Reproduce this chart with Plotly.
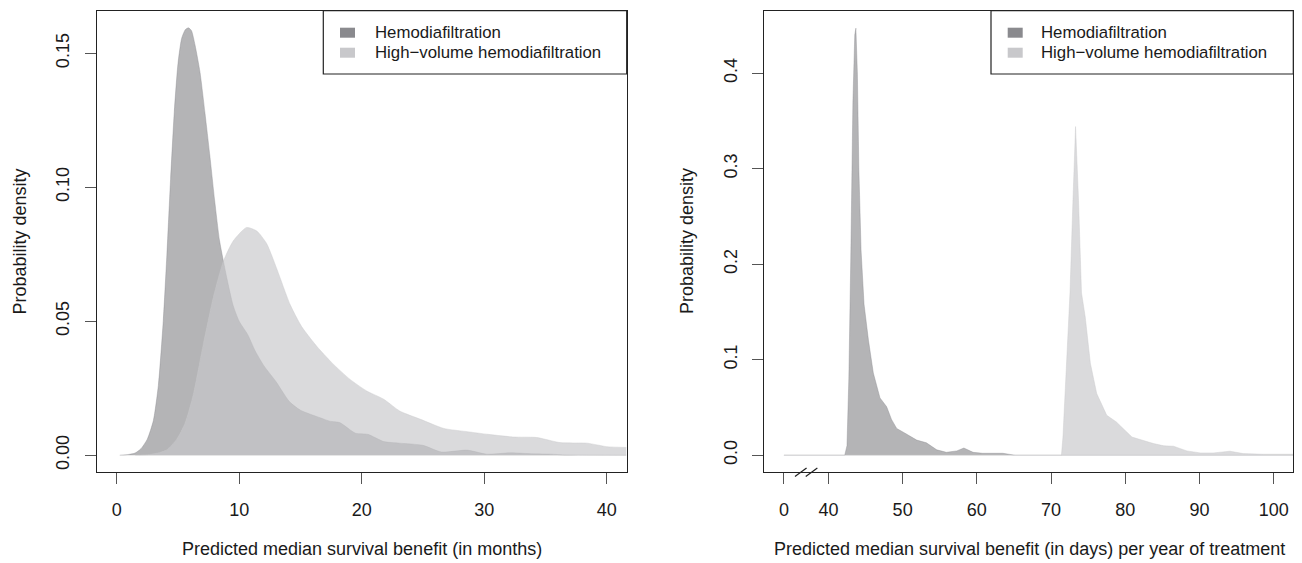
import plotly.graph_objects as go

# ---------------- data ----------------
# Left panel: predicted median survival benefit (months)
hdf_months_x = [0.25, 1.0, 1.5, 2.0, 2.5, 3.0, 3.4, 3.8, 4.1, 4.4, 4.7, 5.0, 5.3, 5.6, 5.85, 6.1, 6.4,
                6.8, 7.2, 7.6, 8.0, 8.4, 9.0, 9.5, 10.0, 10.7, 11.3, 12.0, 13.0, 14.1, 15.0, 16.6,
                17.4, 18.2, 19.5, 20.5, 21.8, 23.1, 25.0, 26.5, 28.6, 30.2, 32.2, 34.0, 35.4, 36.7,
                41.6]
hdf_months_y = [0.0, 0.0003, 0.0008, 0.0025, 0.006, 0.013, 0.026, 0.050, 0.075, 0.103, 0.128, 0.146,
                0.1555, 0.1588, 0.1595, 0.1585, 0.153, 0.143, 0.128, 0.112, 0.095, 0.080, 0.066,
                0.056, 0.050, 0.045, 0.039, 0.0335, 0.0275, 0.020, 0.0168, 0.014, 0.0127, 0.0122,
                0.0082, 0.0078, 0.0051, 0.0045, 0.0037, 0.0012, 0.0019, 0.0004, 0.0009, 0.0005,
                0.0004, 0.0001, 0.0]

hv_months_x = [1.5, 2.7, 3.5, 4.08, 4.9, 5.58, 6.26, 7.07, 7.89, 8.7, 9.52, 10.6, 11.43, 12.24, 13.06,
               14.15, 15.1, 16.36, 17.7, 19.05, 20.4, 21.8, 23.1, 24.8, 26.7, 28.6, 30.3, 32.4, 34.3,
               36.2, 38.4, 40.0, 41.6]
hv_months_y = [0.0, 0.0003, 0.001, 0.002, 0.006, 0.012, 0.0228, 0.0415, 0.059, 0.0723, 0.080, 0.085,
               0.0837, 0.079, 0.0697, 0.0563, 0.048, 0.0405, 0.0339, 0.0283, 0.024, 0.0209, 0.0165,
               0.0134, 0.0100, 0.0088, 0.0078, 0.0068, 0.0066, 0.0047, 0.0045, 0.0032, 0.0029]

# Right panel: predicted median survival benefit (days per year of treatment)
hdf_days_x = [34.0, 42.2, 42.5, 42.75, 43.0, 43.3, 43.55, 43.7, 43.9, 44.1, 44.4, 44.8, 45.4, 46.05,
              46.95, 47.85, 48.5, 49.2, 50.1, 51.9, 53.2, 54.6, 55.9, 57.3, 58.25, 59.5, 60.8, 62.6,
              63.5, 65.15, 102.6]
hdf_days_y = [0.0, 0.0, 0.01, 0.08, 0.2, 0.37, 0.44, 0.447, 0.40, 0.30, 0.214, 0.158, 0.12, 0.086,
              0.060, 0.0507, 0.0375, 0.028, 0.024, 0.0158, 0.013, 0.0056, 0.003, 0.0045, 0.0075,
              0.003, 0.002, 0.0025, 0.002, 0.0, 0.0]

hv_days_x = [34.0, 71.4, 71.6, 72.0, 72.2, 72.55, 72.95, 73.3, 73.7, 74.1, 74.6, 75.3, 76.15, 77.5,
             78.8, 79.75, 80.9, 82.0, 83.8, 85.2, 86.5, 88.3, 90.1, 91.9, 94.1, 95.9, 98.6, 102.6]
hv_days_y = [0.0, 0.0, 0.019, 0.078, 0.113, 0.17, 0.267, 0.344, 0.267, 0.17, 0.145, 0.096, 0.0645,
             0.0418, 0.0348, 0.028, 0.019, 0.0164, 0.0122, 0.0098, 0.0094, 0.0045, 0.0024, 0.0024,
             0.0042, 0.0017, 0.001, 0.001]

series_names = ["Hemodiafiltration", "High\u2212volume hemodiafiltration"]

left_xticks = [0, 10, 20, 30, 40]
left_yticks = [0.0, 0.05, 0.10, 0.15]
left_yticktext = ["0.00", "0.05", "0.10", "0.15"]
right_xticks = [34, 40, 50, 60, 70, 80, 90, 100]
right_xticktext = ["0", "40", "50", "60", "70", "80", "90", "100"]
right_yticks = [0.0, 0.1, 0.2, 0.3, 0.4]
right_yticktext = ["0.0", "0.1", "0.2", "0.3", "0.4"]

left_xtitle = "Predicted median survival benefit (in months)"
right_xtitle = "Predicted median survival benefit (in days) per year of treatment"
ytitle = "Probability density"

# ---------------- style / geometry ----------------
# the page body has an 8px margin, so the figure is drawn at (8, 8)
OFF = 8
W, H = 1302 - OFF, 563 - OFF
FONT = "Liberation Sans, Arial, Helvetica, sans-serif"
TXT = "#1a1a1a"
FRAME = "#222222"
dark_fill = "rgba(137,137,141,0.64)"
light_fill = "rgba(200,200,203,0.67)"
dark_legend = "#8a8a8e"
light_legend = "#c8c8cb"

def px_x(p):
    return (p - OFF) / W

def px_y(p):
    return 1 - (p - OFF) / H

L_dom = [px_x(96.7), px_x(626.7)]
R_dom = [px_x(764.3), px_x(1293.3)]
Y_dom = [px_y(472.3), px_y(10.7)]
L_xr = [-1.63, 41.63]
L_yr = [-0.00638, 0.1659]
R_xr = [31.36, 102.64]
R_yr = [-0.0179, 0.4653]

fig = go.Figure()

def add_area(x, y, fill, xa, ya, shape):
    fig.add_trace(go.Scatter(
        x=x, y=y, mode="lines", fill="tozeroy", fillcolor=fill,
        line=dict(color=fill, width=0.6, shape=shape, smoothing=0.6 if shape == "spline" else None),
        xaxis=xa, yaxis=ya, showlegend=False, hoverinfo="skip"))

add_area(hdf_months_x, hdf_months_y, dark_fill, "x", "y", "spline")
add_area(hv_months_x, hv_months_y, light_fill, "x", "y", "spline")
add_area(hdf_days_x, hdf_days_y, dark_fill, "x2", "y2", "linear")
add_area(hv_days_x, hv_days_y, light_fill, "x2", "y2", "linear")

axis_common = dict(showline=True, mirror=True, linecolor=FRAME, linewidth=1.2,
                   ticks="outside", ticklen=11, tickwidth=1, tickcolor="#555555",
                   showgrid=False, zeroline=False,
                   tickfont=dict(family=FONT, size=18, color=TXT))

fig.update_layout(
    width=W, height=H, autosize=False,
    margin=dict(l=0, r=0, t=0, b=0),
    paper_bgcolor="white", plot_bgcolor="white",
    showlegend=False,
    xaxis=dict(domain=L_dom, range=L_xr, tickvals=left_xticks, anchor="y",
               ticklabelstandoff=10, **axis_common),
    yaxis=dict(domain=Y_dom, range=L_yr, tickvals=left_yticks, ticktext=left_yticktext,
               tickangle=-90, anchor="x", ticklabelstandoff=8, **axis_common),
    xaxis2=dict(domain=R_dom, range=R_xr, tickvals=right_xticks, ticktext=right_xticktext,
                anchor="y2", ticklabelstandoff=10, **axis_common),
    yaxis2=dict(domain=Y_dom, range=R_yr, tickvals=right_yticks, ticktext=right_yticktext,
                tickangle=-90, anchor="x2", ticklabelstandoff=8, **axis_common),
)

ann = []
# axis titles
ann.append(dict(text=left_xtitle, x=px_x(361.7), y=px_y(549), xref="paper", yref="paper",
                xanchor="center", yanchor="middle", showarrow=False,
                font=dict(family=FONT, size=18, color=TXT)))
ann.append(dict(text=right_xtitle, x=px_x(1029), y=px_y(549), xref="paper", yref="paper",
                xanchor="center", yanchor="middle", showarrow=False,
                font=dict(family=FONT, size=18, color=TXT)))
for xp in (20, 687.5):
    ann.append(dict(text=ytitle, x=px_x(xp), y=px_y(241.5), xref="paper", yref="paper",
                    xanchor="center", yanchor="middle", showarrow=False, textangle=-90,
                    font=dict(family=FONT, size=18, color=TXT)))

shapes = []
# legends (one per panel)
for box_left, sq_left, txt_left, frame_right in ((323.3, 340, 372.7, 626.7),
                                                  (991, 1007.7, 1039.3, 1293.3)):
    shapes.append(dict(type="rect", xref="paper", yref="paper",
                       x0=px_x(box_left), x1=px_x(frame_right), y0=px_y(74), y1=px_y(10.7),
                       line=dict(color=FRAME, width=1.2), fillcolor="white", layer="above"))
    for i, (name, col) in enumerate(zip(series_names, [dark_legend, light_legend])):
        cy = 32.7 + 20 * i
        shapes.append(dict(type="rect", xref="paper", yref="paper",
                           x0=px_x(sq_left), x1=px_x(sq_left + 15),
                           y0=px_y(cy + 5), y1=px_y(cy - 5),
                           line=dict(width=0), fillcolor=col, layer="above"))
        ann.append(dict(text=name, x=px_x(txt_left), y=px_y(cy), xref="paper", yref="paper",
                        xanchor="left", yanchor="middle", showarrow=False,
                        font=dict(family=FONT, size=16.8, color=TXT)))

# axis break marks on the right panel's x axis (between "0" and 40)
def data_to_px(v):
    x0 = 764.3
    x1 = 1293.3
    return x0 + (v - R_xr[0]) / (R_xr[1] - R_xr[0]) * (x1 - x0)

brk = data_to_px((right_xticks[0] + right_xticks[1]) / 2)
bottom_px = 472.3
for off in (-5.4, 5.4):
    cx = brk + off
    shapes.append(dict(type="line", xref="paper", yref="paper",
                       x0=px_x(cx - 5.8), y0=px_y(bottom_px + 4.2),
                       x1=px_x(cx + 5.8), y1=px_y(bottom_px - 4.2),
                       line=dict(color=FRAME, width=1.2), layer="above"))

fig.update_layout(annotations=ann, shapes=shapes)
fig.write_html("out.html")
